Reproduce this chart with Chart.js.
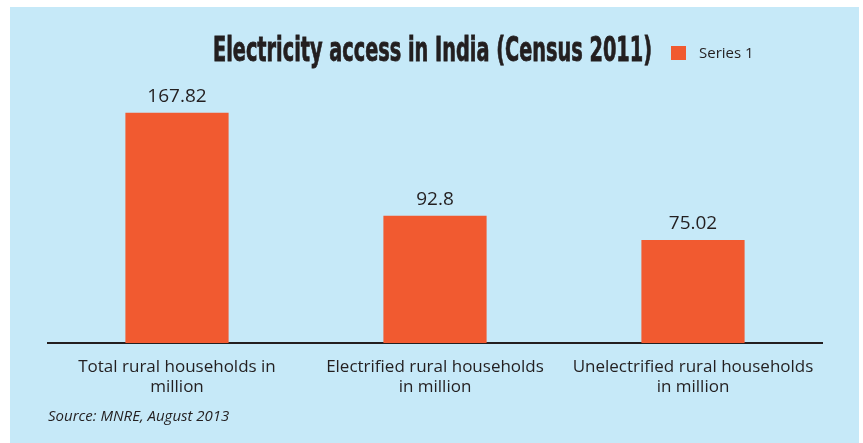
<!DOCTYPE html>
<html>
<head>
<meta charset="utf-8">
<script src="https://cdn.jsdelivr.net/npm/chart.js@4"></script>
<style>
  html, body { margin: 0; padding: 0; background: #fff; }
  #wrap { width: 863px; height: 443px; }
</style>
</head>
<body>
<div id="wrap"><canvas id="elecchart" width="863" height="443"></canvas></div>
<script>
const categories = [
    ['Total rural households in', 'million'],
    ['Electrified rural households', 'in million'],
    ['Unelectrified rural households', 'in million']
];
const series1 = [167.82, 92.8, 75.02];
const valueLabels = ['167.82', '92.8', '75.02'];
const seriesName = 'Series 1';
const chartTitle = 'Electricity access in India (Census 2011)';
const sourceNote = 'Source: MNRE, August 2013';

const skyBlue = '#c6e9f8';
const barOrange = '#f15a30';
const inkColor = '#231f20';

// background, value labels, title + legend on one line, source note
const decor = {
    id: 'decor',
    beforeDraw(chart) {
        const c = chart.ctx;
        c.save();
        c.fillStyle = '#ffffff';
        c.fillRect(0, 0, chart.width, chart.height);
        c.fillStyle = skyBlue;
        c.fillRect(10, 7, 849, 436);
        c.restore();
    },
    afterDatasetsDraw(chart) {
        const c = chart.ctx;
        const bars = chart.getDatasetMeta(0).data;
        c.save();
        c.fillStyle = inkColor;
        c.font = '19px "Open Sans"';
        c.textAlign = 'center';
        c.textBaseline = 'alphabetic';
        bars.forEach(function (bar, i) {
            c.fillText(valueLabels[i], bar.x, bar.y - 11);
        });
        c.restore();
    },
    afterDraw(chart) {
        const c = chart.ctx;
        c.save();
        // title, squeezed to the condensed look of the original
        c.fillStyle = inkColor;
        c.font = 'bold 33px "Liberation Sans Narrow", "DejaVu Sans Condensed", sans-serif';
        c.textBaseline = 'alphabetic';
        const w = c.measureText(chartTitle).width;
        c.translate(213, 61);
        c.scale(439 / w, 1);
        c.fillText(chartTitle, 0, 0);
        c.strokeStyle = inkColor;
        c.lineWidth = 0.8;
        c.strokeText(chartTitle, 0, 0);
        c.restore();

        // legend
        const ds = chart.data.datasets[0];
        c.save();
        c.fillStyle = ds.backgroundColor;
        c.fillRect(671, 46, 15, 14);
        c.fillStyle = inkColor;
        c.font = '15px "Open Sans"';
        c.textBaseline = 'middle';
        c.fillText(ds.label, 699, 54);

        // source
        c.font = 'italic 15px "Open Sans"';
        c.fillText(sourceNote, chart.chartArea.left, 417);
        c.restore();
    }
};

document.addEventListener('DOMContentLoaded', function () {
    const ctx = document.getElementById('elecchart').getContext('2d');

    const data = {
        labels: categories,
        datasets: [
            {
                label: seriesName,
                data: series1,
                backgroundColor: barOrange,
                categoryPercentage: 1,
                barPercentage: 0.4
            }
        ]
    };

    const options = {
        responsive: false,
        animation: false,
        layout: {
            padding: { top: 96, left: 48, right: 41, bottom: 0 }
        },
        plugins: {
            legend: { display: false },
            title: { display: false },
            tooltip: { enabled: false }
        },
        scales: {
            x: {
                grid: { display: false },
                border: { display: true, color: inkColor, width: 2 },
                ticks: {
                    color: inkColor,
                    padding: 6,
                    maxRotation: 0,
                    autoSkip: false,
                    font: { family: '"Open Sans"', size: 17, lineHeight: 1.2 }
                },
                afterFit: function (scale) { scale.height = 100; }
            },
            y: {
                display: false,
                min: 0,
                max: 180
            }
        }
    };

    new Chart(ctx, {
        type: 'bar',
        data: data,
        options: options,
        plugins: [decor]
    });
});
</script>
</body>
</html>
